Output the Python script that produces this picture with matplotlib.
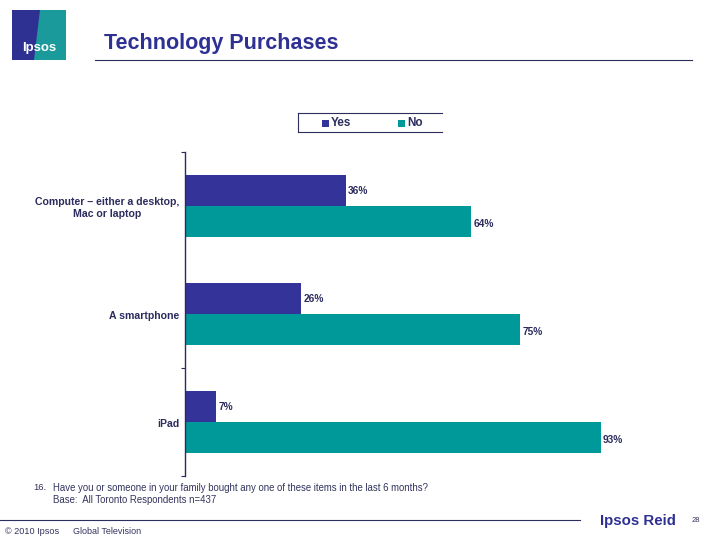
import matplotlib
matplotlib.use("Agg")
import matplotlib.pyplot as plt
from matplotlib.patches import Rectangle, Polygon
from matplotlib.lines import Line2D

plt.rcParams['font.family'] = ['Liberation Sans', 'DejaVu Sans']

categories = ["Computer \u2013 either a desktop,\nMac or laptop", "A smartphone", "iPad"]
yes_values = [36, 26, 7]
no_values = [64, 75, 93]
series_names = ["Yes", "No"]
title = "Technology Purchases"

NAVY = "#333399"
TEAL = "#009999"
TXT = "#2b2b5e"

W, H = 720, 540
fig = plt.figure(figsize=(7.2, 5.4), dpi=100)

def fx(x):
    return x / W

def fy(y):
    return 1 - y / H

# main axes
ax = fig.add_axes([fx(185), fy(476), fx(632) - fx(185), fy(152) - fy(476)])
n = len(categories)
pos = list(range(n))
bh = 0.287
ax.barh([p - bh / 2 for p in pos], yes_values, height=bh, color=NAVY, linewidth=0)
ax.barh([p + bh / 2 for p in pos], no_values, height=bh, color=TEAL, linewidth=0)
for p, v in zip(pos, yes_values):
    ax.text(v + 0.5, p - bh / 2, f"{v}%", va="center", ha="left", fontsize=7.3,
            fontweight="bold", color=TXT)
for p, v in zip(pos, no_values):
    ax.text(v + 0.5, p + bh / 2 + 0.02, f"{v}%", va="center", ha="left", fontsize=7.3,
            fontweight="bold", color=TXT)
ax.set_xlim(0, 100)
ax.set_ylim(n - 0.5, -0.5)
for s in ["top", "right", "bottom"]:
    ax.spines[s].set_visible(False)
ax.spines["left"].set_color(TXT)
ax.spines["left"].set_linewidth(1.0)
ax.set_xticks([])
ax.set_yticks([-0.5, 1.5, 2.5])
ax.set_yticklabels([])
ax.tick_params(axis="y", length=3, color=TXT, direction="out")
for p, c in zip(pos, categories):
    ax.text(-1.2, p + 0.02, c, ha="right", va="center", fontsize=7.6, fontweight="bold",
            color=TXT, multialignment="center", linespacing=1.2)

# title & underline
fig.text(fx(104), fy(44), title, fontsize=15.5, fontweight="bold", color="#2e3192",
         ha="left", va="center")
fig.add_artist(Line2D([fx(95), fx(692)], [fy(60), fy(60)], color="#2e2e5e", lw=0.8))

# logo
fig.add_artist(Rectangle((fx(12), fy(60)), fx(54), fy(10) - fy(60), color="#2e3192", lw=0))
fig.add_artist(Polygon([(fx(40), fy(10)), (fx(66), fy(10)), (fx(66), fy(60)), (fx(34), fy(60))],
                       closed=True, color="#1a9a9a", lw=0))
fig.text(fx(39), fy(48), "Ipsos", fontsize=9.5, fontweight="bold", color="white",
         ha="center", va="center")

# legend
lg_col = "#2e2e5e"
fig.add_artist(Line2D([fx(298), fx(442)], [fy(113), fy(113)], color=lg_col, lw=0.8))
fig.add_artist(Line2D([fx(298), fx(442)], [fy(132), fy(132)], color=lg_col, lw=0.8))
fig.add_artist(Line2D([fx(298), fx(298)], [fy(113), fy(132)], color=lg_col, lw=0.8))
for xm, name, col in [(322, series_names[0], NAVY), (398, series_names[1], TEAL)]:
    fig.add_artist(Rectangle((fx(xm), fy(127)), fx(7), fy(120) - fy(127), color=col, lw=0))
    fig.text(fx(xm + 9), fy(123), name, fontsize=8.5, fontweight="bold", color=lg_col,
             ha="left", va="center")

# footnote
fn_col = "#33335e"
fig.text(fx(33), fy(488), "16.", fontsize=6.8, color=fn_col, ha="left", va="center")
fig.text(fx(53), fy(488), "Have you or someone in your family bought any one of these items in the last 6 months?",
         fontsize=6.9, color=fn_col, ha="left", va="center")
fig.text(fx(53), fy(500), "Base:  All Toronto Respondents n=437", fontsize=6.9, color=fn_col,
         ha="left", va="center")

# footer
fig.add_artist(Line2D([fx(0), fx(580)], [fy(520), fy(520)], color="#2e2e5e", lw=0.8))
fig.text(fx(5), fy(531), "\u00a9 2010 Ipsos", fontsize=6.6, color=fn_col, ha="left", va="center")
fig.text(fx(73), fy(531), "Global Television", fontsize=6.5, color=fn_col, ha="left", va="center")
fig.text(fx(600), fy(521), "Ipsos Reid", fontsize=10.8, fontweight="bold", color="#2e3192",
         ha="left", va="center")
fig.text(fx(692), fy(520), "28", fontsize=5.5, color=fn_col, ha="left", va="center")

fig.savefig("out.png", dpi=100, facecolor="white")
